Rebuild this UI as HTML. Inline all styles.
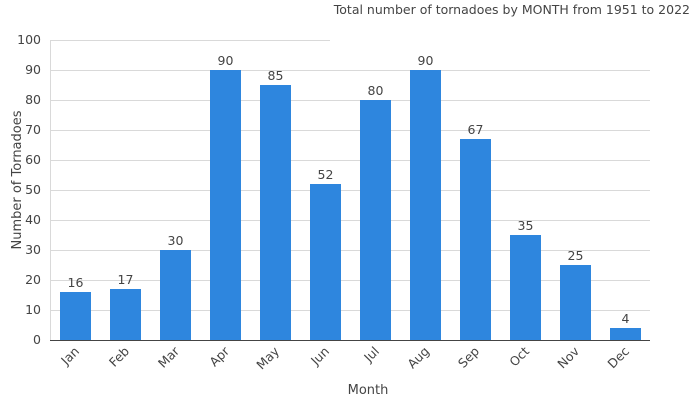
<!DOCTYPE html>
<html><head><meta charset="utf-8"><style>
body{margin:0;background:#fff}
svg{display:block}
text{font-family:"DejaVu Sans","Liberation Sans",sans-serif;fill:#444}
</style></head><body>
<svg width="700" height="400" viewBox="0 0 700 400" xmlns="http://www.w3.org/2000/svg">
<rect width="700" height="400" fill="#fff"/>
<g stroke="#d9d9d9" stroke-width="1">
<line x1="50" x2="330" y1="40.5" y2="40.5"/>
<line x1="50" x2="650" y1="70.5" y2="70.5"/>
<line x1="50" x2="650" y1="100.5" y2="100.5"/>
<line x1="50" x2="650" y1="130.5" y2="130.5"/>
<line x1="50" x2="650" y1="160.5" y2="160.5"/>
<line x1="50" x2="650" y1="190.5" y2="190.5"/>
<line x1="50" x2="650" y1="220.5" y2="220.5"/>
<line x1="50" x2="650" y1="250.5" y2="250.5"/>
<line x1="50" x2="650" y1="280.5" y2="280.5"/>
<line x1="50" x2="650" y1="310.5" y2="310.5"/>
<line x1="50.5" x2="50.5" y1="40" y2="340"/>
</g>
<line x1="50" x2="650" y1="340.5" y2="340.5" stroke="#444"/>
<g font-size="12.5" text-anchor="end">
<text x="41" y="44">100</text><text x="41" y="74">90</text><text x="41" y="104">80</text>
<text x="41" y="134">70</text><text x="41" y="164">60</text><text x="41" y="194">50</text>
<text x="41" y="224">40</text><text x="41" y="254">30</text><text x="41" y="284">20</text>
<text x="41" y="314">10</text><text x="41" y="344">0</text>
</g>
<g fill="#2e86de">
<rect x="60" y="292" width="31" height="48"/>
<rect x="110" y="289" width="31" height="51"/>
<rect x="160" y="250" width="31" height="90"/>
<rect x="210" y="70" width="31" height="270"/>
<rect x="260" y="85" width="31" height="255"/>
<rect x="310" y="184" width="31" height="156"/>
<rect x="360" y="100" width="31" height="240"/>
<rect x="410" y="70" width="31" height="270"/>
<rect x="460" y="139" width="31" height="201"/>
<rect x="510" y="235" width="31" height="105"/>
<rect x="560" y="265" width="31" height="75"/>
<rect x="610" y="328" width="31" height="12"/>
</g>
<g font-size="12.5" text-anchor="middle">
<text x="75.5" y="287">16</text><text x="125.5" y="284">17</text><text x="175.5" y="245">30</text>
<text x="225.5" y="65">90</text><text x="275.5" y="80">85</text><text x="325.5" y="179">52</text>
<text x="375.5" y="95">80</text><text x="425.5" y="65">90</text><text x="475.5" y="134">67</text>
<text x="525.5" y="230">35</text><text x="575.5" y="260">25</text><text x="625.5" y="323">4</text>
</g>
<g font-size="12.5" text-anchor="end">
<text transform="translate(80,352) rotate(-45)">Jan</text>
<text transform="translate(130,352) rotate(-45)">Feb</text>
<text transform="translate(180,352) rotate(-45)">Mar</text>
<text transform="translate(230,352) rotate(-45)">Apr</text>
<text transform="translate(280,352) rotate(-45)">May</text>
<text transform="translate(330,352) rotate(-45)">Jun</text>
<text transform="translate(380,352) rotate(-45)">Jul</text>
<text transform="translate(430,352) rotate(-45)">Aug</text>
<text transform="translate(480,352) rotate(-45)">Sep</text>
<text transform="translate(530,352) rotate(-45)">Oct</text>
<text transform="translate(580,352) rotate(-45)">Nov</text>
<text transform="translate(630,352) rotate(-45)">Dec</text>
</g>
<text x="368" y="394" font-size="13" text-anchor="middle">Month</text>
<text transform="translate(21,180) rotate(-90)" font-size="13" text-anchor="middle">Number of Tornadoes</text>
<text x="690" y="14" font-size="12.5" text-anchor="end">Total number of tornadoes by MONTH from 1951 to 2022</text>
</svg>
</body></html>
